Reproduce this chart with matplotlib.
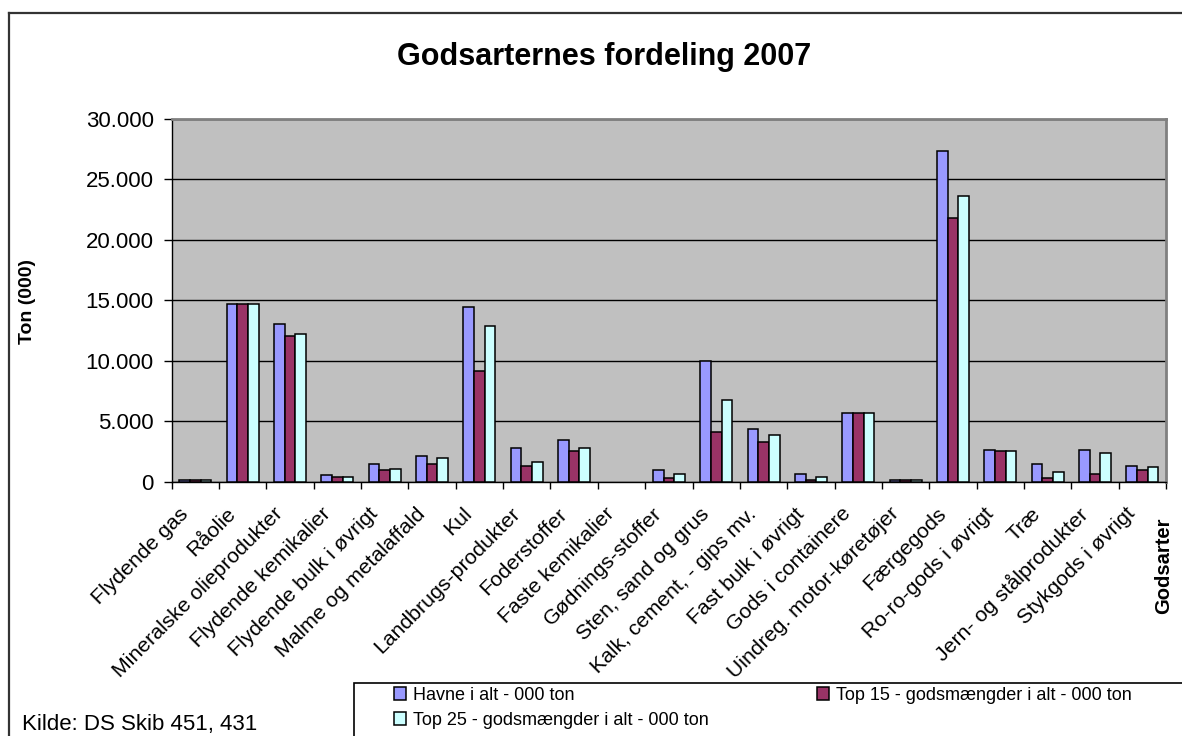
import matplotlib
matplotlib.use("Agg")
import matplotlib.pyplot as plt
import numpy as np
from matplotlib.patches import Rectangle
from matplotlib.lines import Line2D
from matplotlib.transforms import ScaledTranslation
from matplotlib.ticker import FuncFormatter

plt.rcParams['font.family'] = ['Liberation Sans', 'DejaVu Sans']

categories = ["Flydende gas", "Råolie", "Mineralske olieprodukter", "Flydende kemikalier",
              "Flydende bulk i øvrigt", "Malme og metalaffald", "Kul", "Landbrugs-produkter",
              "Foderstoffer", "Faste kemikalier", "Gødnings-stoffer", "Sten, sand og grus",
              "Kalk, cement, - gips mv.", "Fast bulk i øvrigt", "Gods i containere",
              "Uindreg. motor-køretøjer", "Færgegods", "Ro-ro-gods i øvrigt", "Træ",
              "Jern- og stålprodukter", "Stykgods i øvrigt"]

havne = [130, 14730, 13020, 520, 1460, 2120, 14480, 2780, 3450, 0, 940, 9960,
         4390, 660, 5710, 120, 27360, 2650, 1460, 2650, 1320]
top15 = [120, 14730, 12080, 390, 940, 1460, 9160, 1320, 2540, 0, 280, 4110,
         3310, 140, 5710, 110, 21790, 2540, 280, 660, 940]
top25 = [130, 14730, 12190, 390, 1050, 1990, 12880, 1600, 2790, 0, 660, 6760,
         3830, 390, 5710, 120, 23640, 2540, 800, 2400, 1190]

series_labels = ["Havne i alt - 000 ton", "Top 15 - godsmængder i alt - 000 ton",
                 "Top 25 - godsmængder i alt - 000 ton"]
colors = ["#9999FF", "#993366", "#CCFFFF"]
yticks = [0, 5000, 10000, 15000, 20000, 25000, 30000]

W, H = 1182, 736
fig = plt.figure(figsize=(W / 100, H / 100), dpi=100)
fig.patch.set_facecolor("white")

def fx(px):
    return px / W

def fy(py):
    return 1 - py / H

left, right, top, bottom = 171.7, 1166, 119, 481.7
ax = fig.add_axes([fx(left), fy(bottom), fx(right - left), (bottom - top) / H])
ax.set_facecolor("#C0C0C0")

x = np.arange(len(categories))
bw = 0.225
conts = []
for i, (vals, c, lab) in enumerate(zip([havne, top15, top25], colors, series_labels)):
    cont = ax.bar(x + (i - 1) * bw, vals, width=bw, color=c, edgecolor="black",
                  linewidth=1.1, label=lab, zorder=3)
    for patch, v in zip(cont.patches, vals):
        if v == 0:
            patch.set_visible(False)
    conts.append(cont)

ax.set_xlim(-0.5, len(categories) - 0.5)
ax.set_ylim(0, 30000)
ax.set_yticks(yticks)
ax.yaxis.set_major_formatter(FuncFormatter(lambda v, p: f"{int(v):,}".replace(",", ".")))
ax.grid(axis="y", color="black", linewidth=1.0, zorder=1)
ax.set_axisbelow(True)

ax.tick_params(axis="y", direction="out", length=6, width=1, pad=7, labelsize=16, colors="black")
ax.set_xticks(x)
ax.set_xticklabels(categories, rotation=45, ha="right", va="center", rotation_mode="anchor", fontsize=15.3)
ax.tick_params(axis="x", which="major", length=0, pad=21)
ax.set_xticks(np.arange(-0.5, len(categories), 1.0), minor=True)
ax.tick_params(axis="x", which="minor", direction="out", length=5, width=1)
off = ScaledTranslation(-10 / 100, 0, fig.dpi_scale_trans)
for lbl in ax.get_xticklabels():
    lbl.set_transform(lbl.get_transform() + off)

for s in ["top", "right"]:
    ax.spines[s].set_color("#808080")
    ax.spines[s].set_linewidth(2)
for s in ["left", "bottom"]:
    ax.spines[s].set_color("black")
    ax.spines[s].set_linewidth(1)

# texts
fig.text(fx(604), fy(65), "Godsarternes fordeling 2007", ha="center", va="baseline",
         fontsize=22, fontweight="bold")
fig.text(fx(27), fy(301), "Ton (000)", rotation=90, ha="center", va="center",
         fontsize=14, fontweight="bold")
fig.text(fx(1164), fy(566), "Godsarter", rotation=90, ha="center", va="center",
         fontsize=14.5, fontweight="bold")
fig.text(fx(22), fy(730), "Kilde: DS Skib 451, 431", ha="left", va="baseline", fontsize=16)

# figure border
fig.add_artist(Line2D([fx(9), fx(W + 5)], [fy(13), fy(13)], color="#333333", linewidth=1.6,
                      transform=fig.transFigure, clip_on=False))
fig.add_artist(Line2D([fx(9), fx(9)], [fy(13), fy(H + 5)], color="#333333", linewidth=1.6,
                      transform=fig.transFigure, clip_on=False))

# legend box
fig.add_artist(Rectangle((fx(354), fy(790)), fx(900), (790 - 683) / H, transform=fig.transFigure,
                         facecolor="white", edgecolor="black", linewidth=1.2, clip_on=False))
leg = fig.legend([conts[0], conts[2], conts[1]],
                 [series_labels[0], series_labels[2], series_labels[1]],
                 loc="upper left", bbox_to_anchor=(fx(392), fy(685)), ncol=2,
                 frameon=False, fontsize=13, handlelength=0.7, handleheight=0.7,
                 handletextpad=0.35, labelspacing=0.45, columnspacing=6.0,
                 borderpad=0.1, borderaxespad=0)
leg.set_zorder(5)

fig.savefig("out.png", dpi=100)
